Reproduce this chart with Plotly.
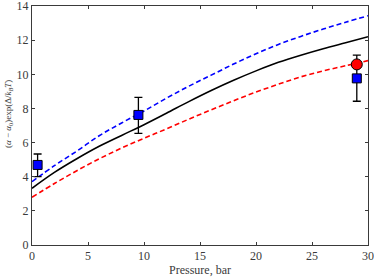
import plotly.graph_objects as go

x_curve = [0, 2, 4, 6, 8, 10, 12, 14, 16, 18, 20, 22, 24, 26, 28, 30]
black_curve = [3.32, 4.25, 5.05, 5.78, 6.42, 7.05, 7.72, 8.4, 9.05, 9.65, 10.2, 10.7, 11.12, 11.5, 11.85, 12.2]
blue_curve = [3.71, 4.65, 5.5, 6.4, 7.15, 7.85, 8.6, 9.3, 9.95, 10.6, 11.2, 11.75, 12.22, 12.65, 13.05, 13.43]
red_curve = [2.8, 3.6, 4.35, 5.05, 5.68, 6.25, 6.8, 7.37, 7.92, 8.45, 8.96, 9.42, 9.85, 10.2, 10.5, 10.8]

sq_x = [0.5, 9.5, 29.0]
sq_y = [4.69, 7.62, 9.76]
sq_err_plus = [0.64, 1.03, 1.36]
sq_err_minus = [0.69, 1.08, 1.34]

circ_x = [29.0]
circ_y = [10.58]

y_label = "(<i>α</i> − <i>α</i><sub>0</sub>)exp(Δ/<i>k</i><sub><i>B</i></sub><i>T</i>)"
x_label = "Pressure, bar"

FONT = "Liberation Serif, DejaVu Serif, serif"

fig = go.Figure()
fig.add_trace(go.Scatter(x=x_curve, y=blue_curve, mode="lines", line=dict(color="#0000ff", width=1.6, dash="5px,3px"), line_shape="spline"))
fig.add_trace(go.Scatter(x=x_curve, y=black_curve, mode="lines", line=dict(color="black", width=1.6), line_shape="spline"))
fig.add_trace(go.Scatter(x=x_curve, y=red_curve, mode="lines", line=dict(color="#ff0000", width=1.6, dash="5px,3px"), line_shape="spline"))
fig.add_trace(go.Scatter(x=sq_x, y=sq_y, mode="markers",
                         marker=dict(symbol="square", size=9, color="#0000ff", line=dict(color="black", width=1)),
                         error_y=dict(type="data", array=sq_err_plus, arrayminus=sq_err_minus, color="black", thickness=1.3, width=4)))
fig.add_trace(go.Scatter(x=circ_x, y=circ_y, mode="markers",
                         marker=dict(symbol="circle", size=11, color="#ff0000", line=dict(color="black", width=1))))

axis_common = dict(showgrid=False, zeroline=False, showline=True, linecolor="#3a3a3a", linewidth=1,
                   mirror="ticks", ticks="inside", ticklen=3, tickcolor="#3a3a3a", automargin=False,
                   ticklabeloverflow="allow",
                   tickfont=dict(family=FONT, size=12, color="#3a3a3a"))

fig.update_layout(
    width=374, height=279,
    margin=dict(l=32, r=6, t=6, b=34),
    plot_bgcolor="white", paper_bgcolor="white",
    showlegend=False,
    xaxis=dict(range=[0, 30], tickvals=[0, 5, 10, 15, 20, 25, 30], **axis_common,
               title=dict(text=x_label, standoff=2,
                          font=dict(family=FONT, size=12, color="#3a3a3a"))),
    yaxis=dict(range=[0, 14.001], tickvals=[0, 2, 4, 6, 8, 10, 12, 14], **axis_common),
    annotations=[dict(text=y_label, textangle=-90, xref="paper", yref="paper",
                      x=-24 / 336, y=0.548, xanchor="center", yanchor="middle", showarrow=False,
                      font=dict(family=FONT, size=9, color="#3a3a3a"))],
)

fig.write_html("out.html", config={"displayModeBar": False},
               post_script="document.body.style.margin='0';document.body.style.overflow='hidden';")
